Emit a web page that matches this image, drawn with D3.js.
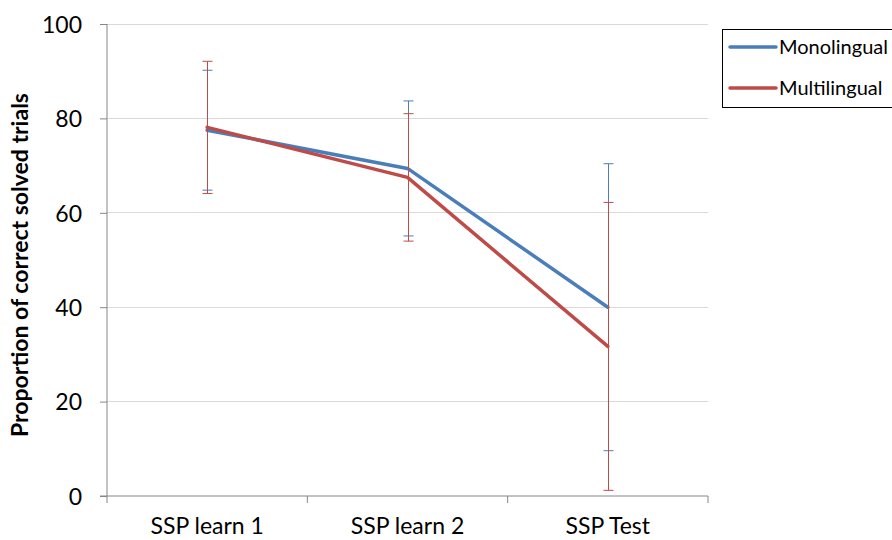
<!DOCTYPE html>
<html><head><meta charset="utf-8">
<script src="https://cdn.jsdelivr.net/npm/d3@7"></script>
<style>body{margin:0;background:#fff}svg{display:block}text{font-family:Lato,"Open Sans",sans-serif}</style>
</head><body><svg id="c" width="892" height="540"></svg>
<script>
const categories = ["SSP learn 1", "SSP learn 2", "SSP Test"];
const seriesNames = ["Monolingual", "Multilingual"];
const monoValues = [77.5, 69.4, 40.0];
const monoErrors = [12.7, 14.3, 30.4];
const multiValues = [78.1, 67.5, 31.7];
const multiErrors = [14.0, 13.5, 30.5];
const yTicks = [0, 20, 40, 60, 80, 100];
const colors = ["#4a7ebb", "#be4b48"];

const svg = d3.select("#c");
const L = 107, R = 708, T = 24, B = 496;
const x = d3.scaleBand().domain(categories).range([L, R]);
const y = d3.scaleLinear().domain([0, 100]).range([B, T]);

// gridlines
svg.append("g").selectAll("line").data(yTicks.filter(d => d > 0)).join("line")
  .attr("x1", L).attr("x2", R).attr("y1", d => y(d)).attr("y2", d => y(d))
  .attr("stroke", "#d9d9d9").attr("stroke-width", 1).attr("shape-rendering", "crispEdges");

// y axis
const ya = svg.append("g").attr("transform", `translate(${L},0)`)
  .call(d3.axisLeft(y).tickValues(yTicks).tickSize(7).tickPadding(18));
ya.select(".domain").attr("stroke", "#868686").attr("d", `M0,${T}V${B}`);
ya.selectAll(".tick line").attr("stroke", "#868686");
ya.selectAll(".tick text").attr("font-size", 23).attr("fill", "#000").attr("dy", "0.36em");

// x axis
const xa = svg.append("g").attr("transform", `translate(0,${B})`)
  .call(d3.axisBottom(x).tickSize(0).tickPadding(22));
xa.select(".domain").attr("stroke", "#868686").attr("d", `M${L-7},0H${R}`);
xa.selectAll(".tick text").attr("font-size", 23).attr("fill", "#000");
const bounds = [L, ...categories.map(c => x(c) + x.bandwidth())];
xa.selectAll(".xt").data(bounds).join("line").attr("class", "xt")
  .attr("x1", d => d).attr("x2", d => d).attr("y1", 0).attr("y2", 7).attr("stroke", "#868686");

// y title
svg.append("text").attr("transform", `translate(28,265) rotate(-90)`)
  .attr("text-anchor", "middle").attr("font-size", 23).attr("font-weight", "bold")
  .text("Proportion of correct solved trials");

const series = [
  {name: seriesNames[0], values: monoValues, errors: monoErrors, color: colors[0]},
  {name: seriesNames[1], values: multiValues, errors: multiErrors, color: colors[1]}
];
const cx = c => x(c) + x.bandwidth() / 2;
const line = d3.line().x(d => cx(d.c)).y(d => y(d.v));

series.forEach(s => {
  svg.append("path").datum(categories.map((c, i) => ({c, v: s.values[i]})))
    .attr("d", line).attr("fill", "none").attr("stroke", s.color)
    .attr("stroke-width", 3.5).attr("stroke-linejoin", "round").attr("stroke-linecap", "round");
});
series.forEach(s => {
  const g = svg.append("g").attr("stroke", s.color).attr("stroke-width", 1);
  categories.forEach((c, i) => {
    const xc = Math.round(cx(c)) + 0.5;
    const hi = y(s.values[i] + s.errors[i]), lo = y(s.values[i] - s.errors[i]);
    g.append("line").attr("x1", xc).attr("x2", xc).attr("y1", hi).attr("y2", lo);
    g.append("line").attr("x1", xc - 5).attr("x2", xc + 5).attr("y1", hi).attr("y2", hi);
    g.append("line").attr("x1", xc - 5).attr("x2", xc + 5).attr("y1", lo).attr("y2", lo);
  });
});

// legend
const lg = svg.append("g");
lg.append("rect").attr("x", 722.5).attr("y", 29.5).attr("width", 175).attr("height", 78)
  .attr("fill", "#fff").attr("stroke", "#000").attr("stroke-width", 1);
series.forEach((s, i) => {
  const yy = [47, 88][i];
  lg.append("line").attr("x1", 730).attr("x2", 776).attr("y1", yy).attr("y2", yy)
    .attr("stroke", s.color).attr("stroke-width", 3.5).attr("stroke-linecap", "round");
  lg.append("text").attr("x", 779).attr("y", yy).attr("dy", "0.35em")
    .attr("font-size", 20).text(s.name);
});
</script></body></html>
